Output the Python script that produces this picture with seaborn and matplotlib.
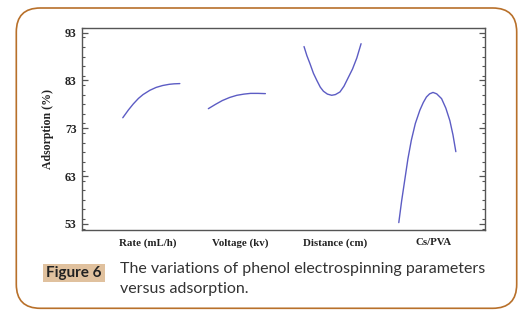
import matplotlib
matplotlib.use("Agg")
import matplotlib.pyplot as plt
from matplotlib.patches import FancyBboxPatch, Rectangle
from matplotlib.ticker import MultipleLocator
import numpy as np
import pandas as pd
import seaborn as sns

# ---- data ----
factors = ["Rate (mL/h)", "Voltage (kv)", "Distance (cm)", "Cs/PVA"]

rate_level = [-1, -0.8, -0.63, -0.45, -0.29, -0.05, 0.17, 0.4, 0.63, 0.8, 1]
rate_ads = [75.2, 76.85, 78.1, 79.25, 80.05, 80.95, 81.55, 81.95, 82.2, 82.3, 82.35]

voltage_level = [-1, -0.75, -0.51, -0.25, 0, 0.25, 0.48, 0.75, 1]
voltage_ads = [77.1, 78.0, 78.8, 79.45, 79.9, 80.15, 80.3, 80.3, 80.25]

distance_level = [-1, -0.9, -0.79, -0.67, -0.55, -0.43, -0.32, -0.18, -0.03,
                  0.1, 0.26, 0.4, 0.55, 0.7, 0.85, 0.93, 1]
distance_ads = [90.1, 88.2, 86.5, 84.5, 83.0, 81.6, 80.75, 80.15, 79.9,
                80.05, 80.6, 81.8, 83.6, 85.4, 87.7, 89.3, 90.7]

cspva_level = [-1, -0.9, -0.79, -0.68, -0.56, -0.42, -0.26, -0.14, -0.03,
               0.08, 0.2, 0.33, 0.5, 0.65, 0.79, 0.9, 1]
cspva_ads = [53.25, 57.8, 62.2, 66.6, 70.5, 74.0, 76.8, 78.4, 79.55,
             80.2, 80.5, 80.2, 79.2, 77.2, 74.6, 71.6, 68.1]

yticks = [53, 63, 73, 83, 93]

# ---- layout ----
centers = [0.75, 1.68, 2.72, 3.75]
label_pos = [0.714, 1.72, 2.75, 3.82]
half_width = 0.31

levels = [rate_level, voltage_level, distance_level, cspva_level]
values = [rate_ads, voltage_ads, distance_ads, cspva_ads]
rows = []
for f, c, lv, vals in zip(factors, centers, levels, values):
    for l, v in zip(lv, vals):
        rows.append({"factor": f, "x": c + half_width * l, "y": v})
df = pd.DataFrame(rows)

sns.set_theme(style="white")
W, H = 529, 319
fig = plt.figure(figsize=(W / 100, H / 100), dpi=100)
fig.patch.set_facecolor("white")

# outer rounded frame
frame = FancyBboxPatch((0.163, 0.107), 5.004, 3.003,
                       boxstyle="round,pad=0,rounding_size=0.24",
                       transform=fig.dpi_scale_trans, facecolor="none",
                       edgecolor="#b8702a", linewidth=1.2, zorder=-1)
fig.patches.append(frame)

ax = fig.add_axes([82.3 / W, 1 - 230 / H, (485 - 82.3) / W, (230 - 27.7) / H])
ax.set_facecolor("white")
line_color = "#5c5cc4"
sns.lineplot(data=df, x="x", y="y", hue="factor", palette=[line_color] * 4,
             legend=False, sort=False, estimator=None, linewidth=1.0, ax=ax)

ax.set_xlim(0, 4.377)
ax.set_ylim(51.7, 94.05)
ax.set_yticks(yticks)
ax.yaxis.set_minor_locator(MultipleLocator(2))
ax.set_xticks(label_pos)
ax.set_xticklabels(factors, fontfamily="Liberation Serif", fontweight="bold",
                   fontsize=7.8, color="#222222")
ax.set_yticklabels([str(t) for t in yticks], fontfamily="Liberation Serif",
                   fontweight="bold", fontsize=8.5, color="#222222")
ax.tick_params(axis="x", length=0, pad=6)
ax.tick_params(axis="y", which="major", direction="in", length=4.5, width=0.9,
               color="#555555", left=True, right=True, pad=4)
ax.tick_params(axis="y", which="minor", direction="in", length=2.5, width=0.8,
               color="#555555", left=True, right=True)
ax.set_xlabel("")
ax.set_ylabel("Adsorption (%)", fontfamily="Liberation Serif", fontweight="bold",
              fontsize=8.5, color="#222222", labelpad=8)
for s in ax.spines.values():
    s.set_visible(True)
    s.set_color("#555555")
    s.set_linewidth(1.0)
ax.grid(False)

# caption label box
fig.patches.append(Rectangle((43.3 / W, 1 - 282.3 / H), (105 - 43.3) / W, (282.3 - 264) / H,
                             transform=fig.transFigure, facecolor="#e0c19e",
                             edgecolor="none", zorder=1))
fig.text(74 / W, 1 - 273.5 / H, "Figure 6", ha="center", va="center",
         fontfamily="Lato", fontweight="bold", fontsize=11, color="#222222")
fig.text(120 / W, 1 - 273.3 / H, "The variations of phenol electrospinning parameters",
         ha="left", va="baseline", fontfamily="Lato", fontsize=11.5, color="#333333")
fig.text(120 / W, 1 - 292.7 / H, "versus adsorption.",
         ha="left", va="baseline", fontfamily="Lato", fontsize=11.5, color="#333333")

fig.savefig("out.png", dpi=100, facecolor="white")
